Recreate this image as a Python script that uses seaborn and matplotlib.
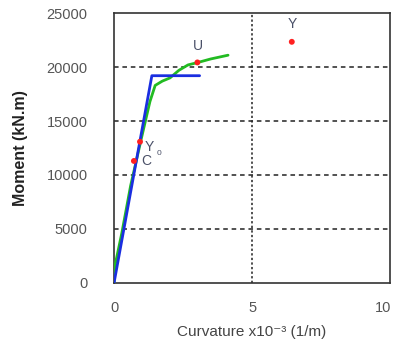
import matplotlib
matplotlib.use("Agg")
import matplotlib.pyplot as plt
import matplotlib.transforms as mtransforms
import seaborn as sns
import pandas as pd

# Data
green_x = [0.0, 0.05, 0.28, 0.6, 1.0, 1.3, 1.49, 1.75, 2.03, 2.35, 2.68, 3.0, 3.5, 4.13]
green_y = [0, 1800, 4600, 9000, 13500, 16800, 18300, 18700, 19000, 19700, 20200, 20400, 20750, 21100]
blue_x = [0.0, 1.37, 3.1]
blue_y = [0, 19200, 19200]
pt_names = ["C", "Y0", "U", "Y"]
pt_x = [0.72, 0.94, 3.02, 6.44]
pt_y = [11300, 13080, 20430, 22340]
x_ticks = [0, 5, 10]
y_ticks = [0, 5000, 10000, 15000, 20000, 25000]

sns.set_style("white")
plt.rcParams["font.family"] = ["Liberation Sans", "DejaVu Sans"]
fig = plt.figure(figsize=(3.96, 3.45), dpi=100)
ax = fig.add_axes([0.288, 0.18, 0.697, 0.782])

gdf = pd.DataFrame({"x": green_x, "y": green_y})
bdf = pd.DataFrame({"x": blue_x, "y": blue_y})
pdf = pd.DataFrame({"x": pt_x, "y": pt_y, "n": pt_names})

for yv in y_ticks[1:-1]:
    ax.axhline(yv, color="#222222", lw=1.1, ls=(0, (3, 2.5)), zorder=1)
ax.axvline(5, color="#222222", lw=1.1, ls=(0, (1.5, 1.5)), zorder=1)

sns.lineplot(data=gdf, x="x", y="y", sort=False, color="#22bb22", lw=2, ax=ax, zorder=3)
sns.lineplot(data=bdf, x="x", y="y", sort=False, color="#1a2ee0", lw=2, ax=ax, zorder=4)
sns.scatterplot(data=pdf, x="x", y="y", color="#ff2020", s=18, edgecolor="none", ax=ax, zorder=5)

tc = "#4a5068"
ax.text(3.05, 21300, "U", color=tc, fontsize=10, ha="center", va="bottom")
ax.text(6.47, 23300, "Y", color=tc, fontsize=10, ha="center", va="bottom")
ax.text(1.0, 11300, "C", color=tc, fontsize=10, ha="left", va="center")
ax.text(1.1, 12600, "Y", color=tc, fontsize=10, ha="left", va="center")
ax.text(1.55, 12000, "0", color=tc, fontsize=6, ha="left", va="center")

ax.set_xlim(0, 10)
ax.set_ylim(0, 25000)
ax.set_xticks(x_ticks)
ax.set_yticks(y_ticks)
ax.tick_params(axis="both", length=0, labelsize=10.5, colors="#555555")
ax.tick_params(axis="x", pad=13)
ax.tick_params(axis="y", pad=19)
for s in ax.spines.values():
    s.set_color("#333333")
    s.set_linewidth(1.2)
ax.set_xlabel("Curvature x10\u207b\u00b3 (1/m)", fontsize=11, color="#444444", labelpad=7)
ax.set_ylabel("Moment (kN.m)", fontsize=11.5, color="#222222", fontweight="bold", labelpad=13)

# keep last x tick label inside the figure
last = ax.get_xticklabels()[-1]
last.set_transform(last.get_transform() + mtransforms.ScaledTranslation(-5 / 72, 0, fig.dpi_scale_trans))

fig.savefig("out.png", dpi=100)
